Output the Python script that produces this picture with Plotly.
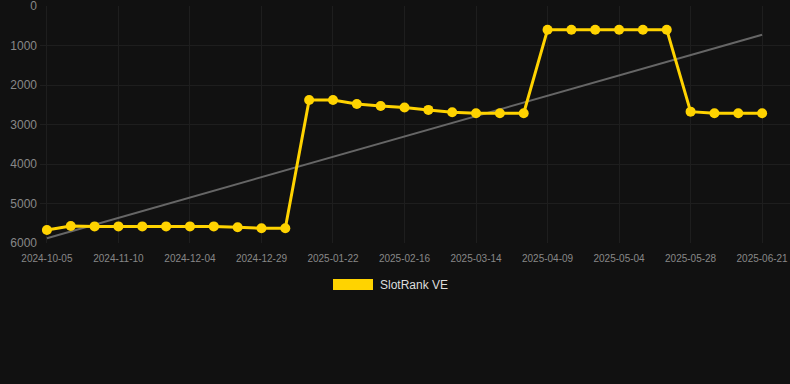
import plotly.graph_objects as go

dates = [
    "2024-10-05", "2024-10-17", "2024-10-29", "2024-11-10", "2024-11-18", "2024-11-26",
    "2024-12-04", "2024-12-12", "2024-12-20", "2024-12-29", "2025-01-06", "2025-01-14",
    "2025-01-22", "2025-01-30", "2025-02-07", "2025-02-16", "2025-02-24", "2025-03-05",
    "2025-03-14", "2025-03-22", "2025-03-31", "2025-04-09", "2025-04-17", "2025-04-25",
    "2025-05-04", "2025-05-12", "2025-05-20", "2025-05-28", "2025-06-05", "2025-06-13",
    "2025-06-21",
]
rank = [
    5670, 5570, 5580, 5580, 5580, 5580, 5580, 5580, 5600, 5625, 5625,
    2380, 2380, 2480, 2530, 2570, 2630, 2690, 2715, 2715, 2715,
    600, 600, 600, 600, 600, 600,
    2675, 2715, 2715, 2715,
]
trend_ends = [5880, 726]
tick_dates = dates[::3]
y_ticks = [0, 1000, 2000, 3000, 4000, 5000, 6000]
series_name = "SlotRank VE"

GOLD = "#FFD300"

fig = go.Figure()
fig.add_trace(go.Scatter(
    x=[dates[0], dates[-1]], y=trend_ends, mode="lines",
    line=dict(color="#666666", width=2), showlegend=False, hoverinfo="skip",
))
fig.add_trace(go.Scatter(
    x=dates, y=rank, mode="lines+markers", name=series_name,
    line=dict(color=GOLD, width=3),
    marker=dict(color=GOLD, size=10),
    showlegend=False, cliponaxis=False,
))

# legend (manual)
px_l, px_r, px_t, px_b = 40, 790, 6, 243
W, H = px_r - px_l, px_b - px_t
def px_x(v):
    return (v - px_l) / W
def px_y(v):
    return (px_b - v) / H

fig.add_shape(type="rect", xref="paper", yref="paper",
              x0=px_x(333), x1=px_x(373), y0=px_y(290), y1=px_y(279),
              fillcolor=GOLD, line=dict(width=0))
fig.add_annotation(xref="paper", yref="paper", x=px_x(378), y=px_y(285),
                   xanchor="left", yanchor="middle", text=series_name,
                   showarrow=False, font=dict(color="#dddddd", size=12, family="Arial, Liberation Sans"))

fig.update_layout(
    width=790, height=384,
    margin=dict(l=px_l, r=790 - px_r, t=px_t, b=384 - px_b),
    paper_bgcolor="#111111", plot_bgcolor="#111111",
    font=dict(family="Arial, Liberation Sans", color="#888888"),
    showlegend=False,
    xaxis=dict(
        type="category", categoryorder="array", categoryarray=dates,
        range=[-0.29, 31.17],
        tickmode="array", tickvals=tick_dates, ticktext=tick_dates,
        tickfont=dict(size=10, color="#888888"),
        showgrid=True, gridcolor="#1e1e1e", gridwidth=1,
        zeroline=False, showline=False, ticks="", ticklabelstandoff=8,
        ticklabeloverflow="allow",
    ),
    yaxis=dict(
        range=[6000, 0], tickmode="array", tickvals=y_ticks,
        tickfont=dict(size=12, color="#888888"),
        showgrid=True, gridcolor="#1e1e1e", gridwidth=1,
        zeroline=False, showline=False, ticks="", ticklabelstandoff=2,
        ticklabeloverflow="allow",
    ),
)

fig.write_html("out.html", config={"displayModeBar": False},
               post_script="document.body.style.margin='0';document.body.style.background='#111111';")
